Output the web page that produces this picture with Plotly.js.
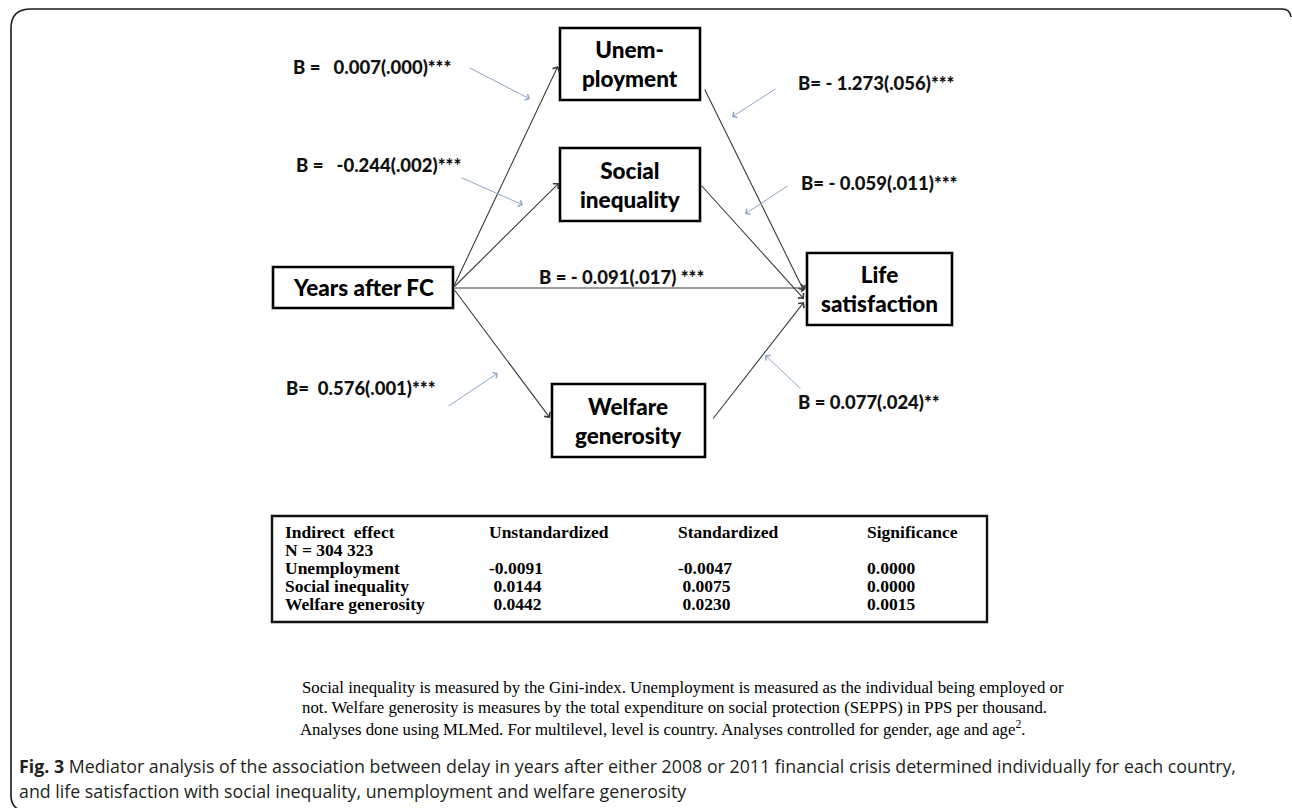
<!DOCTYPE html>
<html>
<head>
<meta charset="utf-8">
<script src="https://cdn.plot.ly/plotly-3.0.1.min.js"></script>
<style>html,body{margin:0;padding:0;background:#fff;}#chart{width:1292px;height:808px;}</style>
</head>
<body>
<div id="chart"></div>
<script>
// ---- content ----
var nodeLabels = ["Unem-<br>ployment", "Social<br>inequality", "Years after FC", "Life<br>satisfaction", "Welfare<br>generosity"];
var pathLabels = ["B =\u00a0\u00a0\u00a00.007(.000)***", "B =\u00a0\u00a0\u00a0-0.244(.002)***", "B = - 0.091(.017) ***",
                  "B=\u00a0\u00a00.576(.001)***", "B= - 1.273(.056)***", "B= - 0.059(.011)***", "B = 0.077(.024)**"];
var tableHeader = ["Indirect  effect", "Unstandardized", "Standardized", "Significance"];
var tableSubHeader = "N = 304 323";
var rowNames = ["Unemployment", "Social inequality", "Welfare generosity"];
var unstandardized = ["-0.0091", "\u00a00.0144", "\u00a00.0442"];
var standardized = ["-0.0047", "\u00a00.0075", "\u00a00.0230"];
var significance = ["0.0000", "0.0000", "0.0015"];
var footnoteLines = [
  "Social inequality is measured by the Gini-index. Unemployment is measured as the individual being employed or",
  "not. Welfare generosity is measures by the total expenditure on social protection (SEPPS) in PPS per thousand.",
  "Analyses done using MLMed. For multilevel, level is country. Analyses controlled for gender, age and age<sup>2</sup>."
];
var captionLines = [
  "<b>Fig. 3</b> Mediator analysis of the association between delay in years after either 2008 or 2011 financial crisis determined individually for each country,",
  "and life satisfaction with social inequality, unemployment and welfare generosity"
];

// ---- layout geometry (pixel space) ----
var boxes = [[560,28,700,100],[560,148,700,221],[273,267,453,308],[807,253,952,325],[552,384,705,457]];
var mainArrows = [ // [fromX, fromY, toX, toY]
  [453,288,558,66],[453,288,559,183],[453,288,806,288],[453,288,550,418],
  [704,88,804,291],[700,184,804,299],[712,420,804,302]
];
var labelPos = [[291,67],[294,165],[537,277],[284,388],[796,83],[799,183],[796,402]];
var noteArrows = [
  [468,67,530,99],[460,177,523,205],[447,407,498,373],
  [777,88,732,117],[789,185,745,214],[802,390,765,355]
];
var tableBox = [272,516,987,622];
var colX = [283,487,676,865];
var rowY = [532,550,568,586,604];
var footY = [687,707,728];
var footX = [300,300,298];
var capY = [766,791];

var shapes = [];
var annotations = [];

// outer rounded frame
shapes.push({type:'path', path:'M 24,812 Q 11,808 11,796 L 11,28 Q 11,9 31,9 L 1282,9 Q 1290,9 1291,17',
  line:{color:'#1a1a1a', width:1.6}, layer:'below'});

// boxes
boxes.forEach(function(b,i){
  shapes.push({type:'rect', x0:b[0], y0:b[1], x1:b[2], y1:b[3], line:{color:'#000', width:2.6}, fillcolor:'rgba(0,0,0,0)'});
  annotations.push({x:(b[0]+b[2])/2, y:(b[1]+b[3])/2, text:nodeLabels[i], showarrow:false,
    xanchor:'center', yanchor:'middle', align:'center',
    font:{family:'Lato, "Open Sans", sans-serif', size:22.5, color:'#000', weight:900}});
});

// main arrows
mainArrows.forEach(function(a){
  annotations.push({x:a[2], y:a[3], ax:a[0], ay:a[1], axref:'x', ayref:'y', xref:'x', yref:'y',
    text:'', showarrow:true, arrowhead:4, arrowsize:1.3, arrowwidth:1.1, arrowcolor:'#3a3a3a', standoff:0, startstandoff:0});
});

// note arrows (blue-grey)
noteArrows.forEach(function(a){
  annotations.push({x:a[2], y:a[3], ax:a[0], ay:a[1], axref:'x', ayref:'y', xref:'x', yref:'y',
    text:'', showarrow:true, arrowhead:4, arrowsize:1.3, arrowwidth:1.0, arrowcolor:'#8da6c6', standoff:0, startstandoff:0});
});

// coefficient labels
pathLabels.forEach(function(t,i){
  annotations.push({x:labelPos[i][0], y:labelPos[i][1], text:t, showarrow:false, xanchor:'left', yanchor:'middle',
    font:{family:'Lato, "Open Sans", sans-serif', size:18.5, color:'#111', weight:900}});
});

// table
shapes.push({type:'rect', x0:tableBox[0], y0:tableBox[1], x1:tableBox[2], y1:tableBox[3], line:{color:'#111', width:2.4}});
var tFont = {family:'"Liberation Serif", "Times New Roman", serif', size:17.5, color:'#000', weight:'bold'};
tableHeader.forEach(function(t,i){
  annotations.push({x:colX[i], y:rowY[0], text:t, showarrow:false, xanchor:'left', yanchor:'middle', font:tFont});
});
annotations.push({x:colX[0], y:rowY[1], text:tableSubHeader, showarrow:false, xanchor:'left', yanchor:'middle', font:tFont});
rowNames.forEach(function(r,i){
  var y = rowY[i+2];
  [r, unstandardized[i], standardized[i], significance[i]].forEach(function(t,j){
    annotations.push({x:colX[j], y:y, text:t, showarrow:false, xanchor:'left', yanchor:'middle', font:tFont});
  });
});

// footnote
footnoteLines.forEach(function(t,i){
  annotations.push({x:footX[i], y:footY[i], text:t, showarrow:false, xanchor:'left', yanchor:'middle',
    font:{family:'"Liberation Serif", "Times New Roman", serif', size:16.8, color:'#000'}});
});

// caption
captionLines.forEach(function(t,i){
  annotations.push({x:17, y:capY[i], text:t, showarrow:false, xanchor:'left', yanchor:'middle',
    font:{family:'"Open Sans", sans-serif', size:17.8, color:'#231f20'}});
});

var layout = {
  width:1292, height:808, margin:{l:0,r:0,t:0,b:0},
  paper_bgcolor:'#fff', plot_bgcolor:'#fff', showlegend:false,
  xaxis:{range:[0,1292], visible:false, fixedrange:true},
  yaxis:{range:[808,0], visible:false, fixedrange:true},
  shapes:shapes, annotations:annotations
};
Plotly.newPlot('chart', [{x:[], y:[], type:'scatter', mode:'markers'}], layout, {displayModeBar:false, staticPlot:true});
</script>
</body>
</html>
